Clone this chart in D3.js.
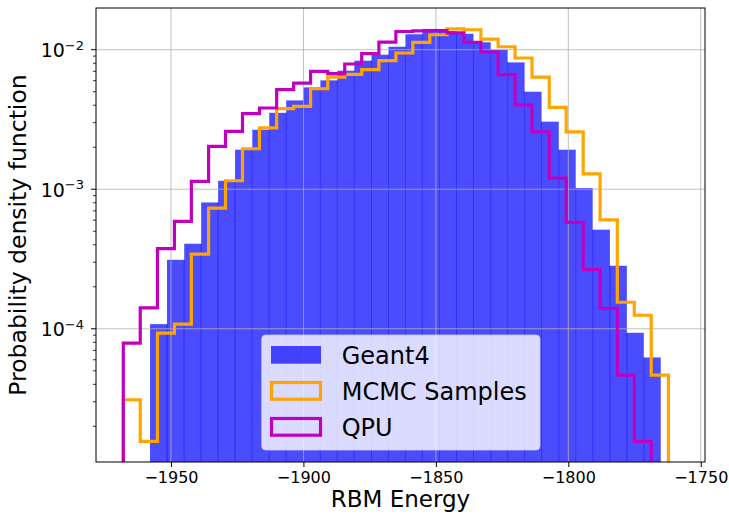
<!DOCTYPE html>
<html>
<head>
<meta charset="utf-8">
<script src="https://cdn.jsdelivr.net/npm/d3@7"></script>
<style>
    body { margin: 0; background: #fff; }
    svg { display: block; font-family: "DejaVu Sans", sans-serif; }
</style>
</head>
<body>
<svg id="chart" width="729" height="516"></svg>
<script>

// --------------------------------------
// Data
// --------------------------------------

// Geant4 histogram, bin edges and densities
var geantEdges = [-1957.9, -1951.5, -1945.0, -1938.6, -1932.2, -1925.8, -1919.3, -1912.9,
    -1906.5, -1900.1, -1893.6, -1887.2, -1880.8, -1874.3, -1867.9, -1861.5, -1855.1,
    -1848.6, -1842.2, -1835.8, -1829.3, -1822.9, -1816.5, -1810.1, -1803.6, -1797.2,
    -1790.8, -1784.3, -1777.9, -1771.5, -1765.1];
var geantValues = [1.08e-4, 3.12e-4, 4.07e-4, 8.04e-4, 1.15e-3, 1.92e-3, 2.67e-3, 3.53e-3,
    4.33e-3, 5.37e-3, 6.03e-3, 7.07e-3, 8.34e-3, 9.21e-3, 1.05e-2, 1.29e-2, 1.41e-2,
    1.357e-2, 1.30e-2, 1.13e-2, 1.0e-2, 8.11e-3, 5.0e-3, 3.05e-3, 1.92e-3, 1.02e-3,
    5.13e-4, 2.83e-4, 9.36e-5, 6.23e-5];

// MCMC samples and QPU share the same bins
var sampleEdges = [-1968.0, -1961.6, -1955.1, -1948.7, -1942.3, -1935.8, -1929.4, -1923.0,
    -1916.6, -1910.1, -1903.7, -1897.3, -1890.8, -1884.4, -1878.0, -1871.5, -1865.1,
    -1858.7, -1852.3, -1845.8, -1839.4, -1833.0, -1826.5, -1820.1, -1813.7, -1807.2,
    -1800.8, -1794.4, -1788.0, -1781.5, -1775.1, -1768.7, -1762.2];
var mcmcValues = [3.10e-5, 1.56e-5, 9.31e-5, 1.08e-4, 3.43e-4, 7.33e-4, 1.15e-3, 1.95e-3,
    2.75e-3, 3.78e-3, 3.92e-3, 5.25e-3, 6.37e-3, 6.65e-3, 7.19e-3, 8.34e-3, 9.47e-3,
    1.13e-2, 1.28e-2, 1.41e-2, 1.39e-2, 1.19e-2, 1.05e-2, 8.72e-3, 6.37e-3, 3.86e-3,
    2.58e-3, 1.29e-3, 6.04e-4, 1.55e-4, 1.25e-4, 4.66e-5];
var qpuValues = [7.90e-5, 1.41e-4, 3.75e-4, 5.88e-4, 1.14e-3, 2.03e-3, 2.60e-3, 3.48e-3,
    3.82e-3, 5.17e-3, 5.77e-3, 6.99e-3, 6.73e-3, 7.90e-3, 9.36e-3, 1.135e-2, 1.35e-2,
    1.364e-2, 1.369e-2, 1.32e-2, 1.13e-2, 9.63e-3, 6.62e-3, 4.03e-3, 2.58e-3, 1.20e-3,
    5.78e-4, 2.65e-4, 1.40e-4, 4.66e-5, 1.56e-5, 0];

var xTicks = [-1950, -1900, -1850, -1800, -1750];
var yTicks = [1e-2, 1e-3, 1e-4];
var yTickExp = ["\u22122", "\u22123", "\u22124"];
var legendLabels = ["Geant4", "MCMC Samples", "QPU"];

// --------------------------------------
// Layout
// --------------------------------------

var margin = {top: 8, right: 24, bottom: 54, left: 96};
var width = 729 - margin.left - margin.right;
var height = 516 - margin.top - margin.bottom;

var svg = d3.select("#chart");
var g = svg.append("g")
    .attr("transform", "translate(" + margin.left + "," + margin.top + ")");

var x = d3.scaleLinear().domain([-1978.3, -1748.4]).range([0, width]);
var y = d3.scaleLog().domain([1.11e-5, 0.0199]).range([height, 0]);

g.append("clipPath").attr("id", "plotclip")
    .append("rect").attr("width", width).attr("height", height);

var plot = g.append("g").attr("clip-path", "url(#plotclip)");

// y position, zero bins fall below the plot
function yv(v) {
    return v > 0 ? y(v) : height + 10;
}

// --------------------------------------
// Geant4 bars
// --------------------------------------

plot.selectAll(".bar")
    .data(geantValues)
    .enter().append("rect")
    .attr("class", "bar")
    .attr("x", function(d, i) { return x(geantEdges[i]); })
    .attr("width", function(d, i) { return x(geantEdges[i + 1]) - x(geantEdges[i]); })
    .attr("y", function(d) { return yv(d); })
    .attr("height", function(d) { return height + 10 - yv(d); })
    .attr("fill", "blue")
    .attr("fill-opacity", 0.7);

// seams between the bars
for (var e = 1; e < geantValues.length; e++) {
    var seamTop = Math.max(yv(geantValues[e - 1]), yv(geantValues[e]));
    plot.append("line")
        .attr("x1", x(geantEdges[e])).attr("x2", x(geantEdges[e]))
        .attr("y1", seamTop).attr("y2", height)
        .attr("stroke", "#0000ff")
        .attr("stroke-opacity", 0.55)
        .attr("stroke-width", 1);
}

// --------------------------------------
// Grid (over bars, under lines)
// --------------------------------------

xTicks.forEach(function(t) {
    plot.append("line")
        .attr("x1", x(t)).attr("x2", x(t))
        .attr("y1", 0).attr("y2", height)
        .attr("stroke", "#b0b0b0").attr("stroke-opacity", 0.8)
        .attr("stroke-width", 1);
});
yTicks.forEach(function(t) {
    plot.append("line")
        .attr("x1", 0).attr("x2", width)
        .attr("y1", y(t)).attr("y2", y(t))
        .attr("stroke", "#b0b0b0").attr("stroke-opacity", 0.8)
        .attr("stroke-width", 1);
});

// --------------------------------------
// Step histograms
// --------------------------------------

function stepPath(edges, values) {
    var pts = [[x(edges[0]), height + 10]];
    for (var i = 0; i < values.length; i++) {
        pts.push([x(edges[i]), yv(values[i])]);
        pts.push([x(edges[i + 1]), yv(values[i])]);
    }
    pts.push([x(edges[values.length]), height + 10]);
    return d3.line()(pts);
}

plot.append("path")
    .attr("d", stepPath(sampleEdges, mcmcValues))
    .attr("fill", "none")
    .attr("stroke", "orange")
    .attr("stroke-width", 3.2);

plot.append("path")
    .attr("d", stepPath(sampleEdges, qpuValues))
    .attr("fill", "none")
    .attr("stroke", "#bf00bf")
    .attr("stroke-width", 3.2);

// --------------------------------------
// Axes
// --------------------------------------

var xAxis = g.append("g")
    .attr("transform", "translate(0," + height + ")")
    .call(d3.axisBottom(x).tickValues(xTicks).tickSize(5).tickPadding(5)
        .tickFormat(function(d) { return String(d).replace("-", "\u2212"); }));
xAxis.select(".domain").remove();
xAxis.selectAll("text")
    .attr("font-size", "16px")
    .attr("fill", "#000")
    .attr("font-family", "DejaVu Sans");

// y axis, minor ticks
var minor = [];
for (var p = -5; p <= -2; p++) {
    for (var m = 2; m <= 9; m++) {
        var mv = m * Math.pow(10, p);
        if (mv > y.domain()[0] && mv < y.domain()[1]) minor.push(mv);
    }
}
g.selectAll(".minor")
    .data(minor)
    .enter().append("line")
    .attr("x1", -3).attr("x2", 0)
    .attr("y1", function(d) { return y(d); })
    .attr("y2", function(d) { return y(d); })
    .attr("stroke", "#000").attr("stroke-width", 0.8);

yTicks.forEach(function(t, i) {
    g.append("line")
        .attr("x1", -5).attr("x2", 0)
        .attr("y1", y(t)).attr("y2", y(t))
        .attr("stroke", "#000").attr("stroke-width", 1);
    var lbl = g.append("text")
        .attr("x", -12)
        .attr("y", y(t) + 7.3)
        .attr("text-anchor", "end")
        .attr("fill", "#000");
    lbl.append("tspan").attr("font-size", "19px").text("10");
    lbl.append("tspan").attr("font-size", "13px").attr("dy", -7.3).text(yTickExp[i]);
});

// frame
g.append("rect")
    .attr("width", width).attr("height", height)
    .attr("fill", "none")
    .attr("stroke", "#000")
    .attr("stroke-width", 1);

// axis labels
g.append("text")
    .attr("x", width / 2)
    .attr("y", height + 45)
    .attr("text-anchor", "middle")
    .attr("font-size", "23px")
    .text("RBM Energy");

g.append("text")
    .attr("transform", "translate(" + (-70) + "," + (height / 2) + ") rotate(-90)")
    .attr("text-anchor", "middle")
    .attr("font-size", "23.5px")
    .text("Probability density function");

// --------------------------------------
// Legend
// --------------------------------------

var leg = g.append("g").attr("transform", "translate(" + (261.7 - margin.left) + "," + (335 - margin.top) + ")");

leg.append("rect")
    .attr("width", 278.3).attr("height", 115)
    .attr("rx", 4).attr("ry", 4)
    .attr("fill", "#fff").attr("fill-opacity", 0.8)
    .attr("stroke", "#cccccc").attr("stroke-opacity", 0.8);

var legStyle = [
    {fill: "blue", op: 0.7, stroke: "none"},
    {fill: "none", op: 0, stroke: "orange"},
    {fill: "none", op: 0, stroke: "#bf00bf"}
];

legendLabels.forEach(function(lab, i) {
    var ry = 11 + i * 36;
    var s = legStyle[i];
    if (s.stroke === "none") {
        leg.append("rect")
            .attr("x", 9.3).attr("y", ry).attr("width", 50).attr("height", 17.7)
            .attr("fill", s.fill).attr("fill-opacity", s.op);
    } else {
        leg.append("rect")
            .attr("x", 9.8).attr("y", ry + 0.5).attr("width", 49).attr("height", 16.7)
            .attr("fill", "none")
            .attr("stroke", s.stroke).attr("stroke-width", 3.2);
    }
    leg.append("text")
        .attr("x", 80)
        .attr("y", ry + 17.5)
        .attr("font-size", "24px")
        .attr("fill", "#000")
        .text(lab);
});

</script>
</body>
</html>
